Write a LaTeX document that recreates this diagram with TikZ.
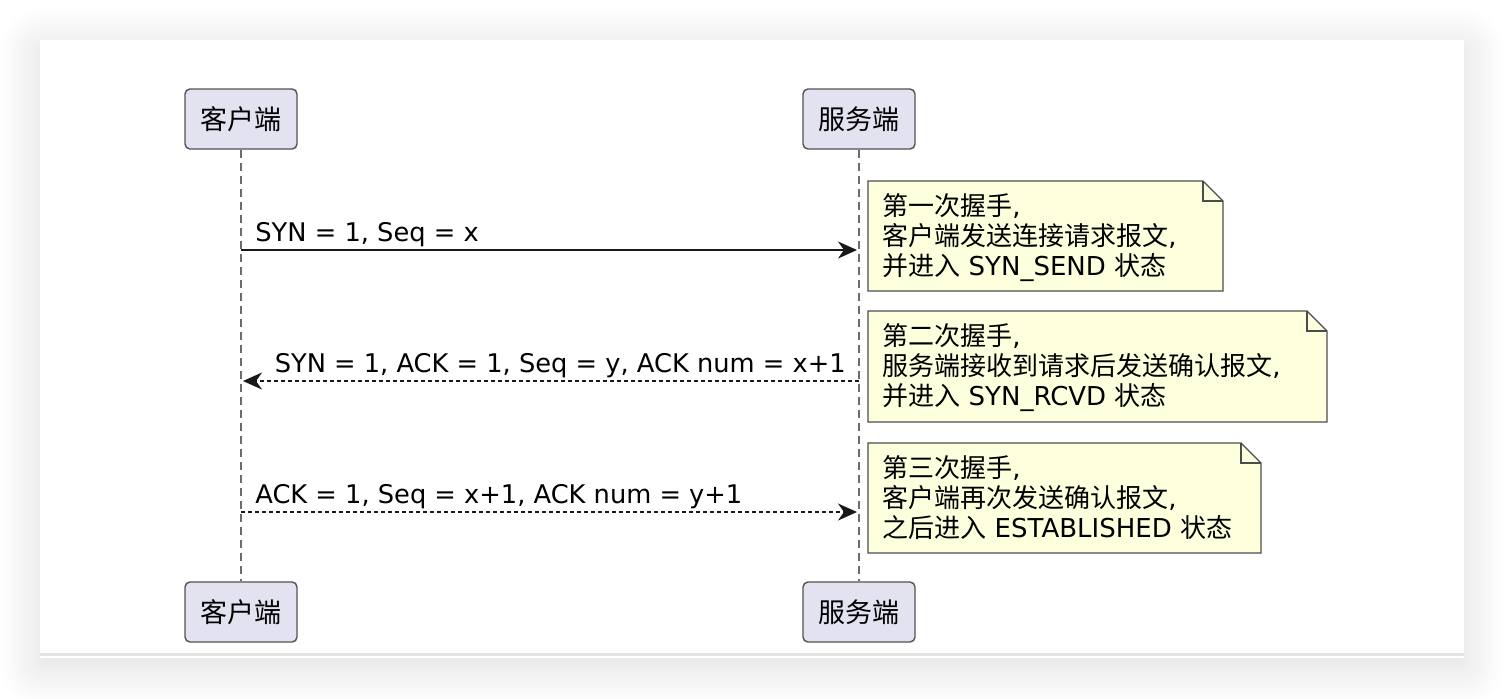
\documentclass[tikz,border=0pt]{standalone}
\usepackage{fontspec}
\setmainfont{DejaVu Sans}
\newfontfamily\cjk{Noto Sans CJK SC}
\usetikzlibrary{arrows.meta, positioning, shadows.blur}
\definecolor{actorfill}{HTML}{E2E2F0}
\definecolor{notefill}{HTML}{FEFFDD}
\definecolor{ink}{HTML}{181818}

\begin{document}
\begin{tikzpicture}[x=0.5pt, y=-0.5pt, font=\fontsize{13}{15}\selectfont,
    >={Stealth[length=9.5pt, width=8.5pt, inset=3pt]},
    actor/.style={draw=ink!75, line width=0.7pt, fill=actorfill, rounded corners=2.5pt,
      minimum width=56pt, minimum height=30pt, inner sep=0pt, font=\cjk\fontsize{13.5}{15}\selectfont},
    life/.style={draw=gray!85!black, line width=0.6pt, dash pattern=on 4pt off 2.5pt},
    msg/.style={draw=ink, line width=0.75pt},
    reply/.style={msg, dash pattern=on 2pt off 1.5pt},
    note/.style={draw=gray!60!black, line width=0.7pt, fill=notefill, line join=miter},
    notetext/.style={anchor=west, align=left, inner sep=0pt},
    msglabel/.style={inner sep=0pt, font=\fontsize{12.85}{15}\selectfont}]
  \useasboundingbox (0,0) rectangle (1504,698);
  % card with soft shadow, and the thin rule at its foot
  \fill[white, blur shadow={shadow blur radius=20pt, shadow blur steps=14, shadow xshift=0pt, shadow yshift=-4pt, shadow opacity=14}]
    (40,40) rectangle (1464,658);
  \draw[gray!22, line width=1.2pt] (40,654.5) -- (1464,654.5);

  % participants, top and bottom
  \node[actor] (cliTop) at (241,119) {客户端};
  \node[actor] (srvTop) at (859,119) {服务端};
  \node[actor] (cliBot) at (241,612) {客户端};
  \node[actor] (srvBot) at (859,612) {服务端};
  % lifelines
  \draw[life] (cliTop) -- (cliBot);
  \draw[life] (srvTop) -- (srvBot);

  % message end points on the lifelines
  \coordinate (m1s) at (cliTop |- 0,250);
  \coordinate (m1e) at (857,250);
  \coordinate (m2s) at (srvTop |- 0,381);
  \coordinate (m2e) at (243,381);
  \coordinate (m3s) at (cliTop |- 0,512);
  \coordinate (m3e) at (857,512);

  % first handshake: solid arrow
  \draw[msg, ->] (m1s) -- (m1e);
  \node[msglabel, anchor=base west] (lab1) at (255,241) {SYN = 1, Seq = x};
  % second handshake: dotted reply, label flush right
  \draw[reply, ->] (m2s) -- (m2e);
  \node[msglabel, anchor=base east] (lab2) at (846,372) {SYN = 1, ACK = 1, Seq = y, ACK num = x+1};
  % third handshake: dotted arrow again
  \draw[reply, ->] (m3s) -- (m3e);
  \node[msglabel, anchor=base west] (lab3) at (255,503) {ACK = 1, Seq = x+1, ACK num = y+1};

  % notes with a folded corner (20px fold)
  \draw[note] (868,181) -- (1203,181) -- (1223,201) -- (1223,291) -- (868,291) -- cycle;
  \draw[note, fill=none] (1203,181) -- (1203,201) -- (1223,201);
  \node[notetext] (note1) at (882,238)
    {{\cjk 第一次握手},\\{\cjk 客户端发送连接请求报文},\\{\cjk 并进入} SYN\_SEND {\cjk 状态}};

  \draw[note] (868,311) -- (1307,311) -- (1327,331) -- (1327,422) -- (868,422) -- cycle;
  \draw[note, fill=none] (1307,311) -- (1307,331) -- (1327,331);
  \node[notetext] (note2) at (882,368)
    {{\cjk 第二次握手},\\{\cjk 服务端接收到请求后发送确认报文},\\{\cjk 并进入} SYN\_RCVD {\cjk 状态}};

  \draw[note] (868,443) -- (1241,443) -- (1261,463) -- (1261,553) -- (868,553) -- cycle;
  \draw[note, fill=none] (1241,443) -- (1241,463) -- (1261,463);
  \node[notetext] (note3) at (882,498)
    {{\cjk 第三次握手},\\{\cjk 客户端再次发送确认报文},\\{\cjk 之后进入} ESTABLISHED {\cjk 状态}};
\end{tikzpicture}
\end{document}
